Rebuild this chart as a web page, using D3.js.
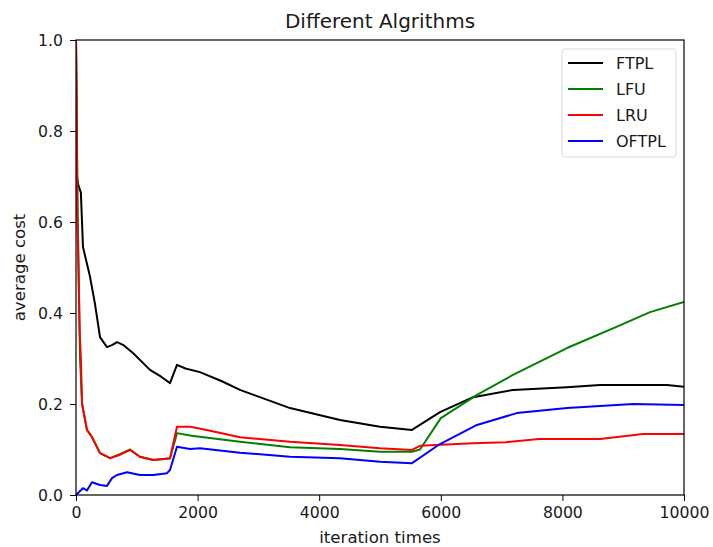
<!DOCTYPE html>
<html>
<head>
<meta charset="utf-8">
<script src="https://cdn.jsdelivr.net/npm/d3@7"></script>
<style>
  body { margin: 0; background: #fff; }
  svg text { font-family: "DejaVu Sans", sans-serif; fill: #1a1a1a; }
</style>
</head>
<body>
<div id="chart"></div>
<script>
// series: [iteration, average cost]
var ftpl = [[0,1.0],[15,0.70],[40,0.68],[80,0.665],[115,0.545],[230,0.48],[312,0.42],[395,0.347],[510,0.325],
  [600,0.33],[674,0.336],[773,0.33],[937,0.312],[1217,0.275],[1400,0.26],[1546,0.246],[1661,0.286],[1800,0.278],
  [2039,0.27],[2400,0.25],[2697,0.231],[3520,0.191],[4342,0.165],[5000,0.15],[5526,0.143],[5987,0.182],
  [6530,0.215],[7187,0.231],[8076,0.237],[8618,0.242],[9720,0.242],[10000,0.238]];

var lfu = [[0,1.0],[30,0.6],[66,0.3],[100,0.2],[180,0.143],[260,0.128],[395,0.092],[560,0.081],[720,0.09],
  [890,0.1],[1050,0.084],[1270,0.077],[1546,0.08],[1661,0.136],[1900,0.13],[2697,0.117],[3520,0.105],
  [4342,0.101],[5000,0.095],[5526,0.095],[5658,0.1],[6000,0.169],[6595,0.22],[7187,0.264],[8076,0.323],
  [8898,0.37],[9441,0.402],[10000,0.424]];

var lru = [[0,1.0],[20,0.62],[40,0.5],[60,0.36],[80,0.3],[100,0.2],[180,0.143],[260,0.128],[395,0.092],
  [560,0.081],[720,0.088],[890,0.099],[1050,0.084],[1270,0.077],[1546,0.081],[1661,0.15],[1880,0.15],
  [2150,0.143],[2697,0.127],[3520,0.117],[4342,0.11],[5000,0.103],[5526,0.099],[5658,0.108],[6530,0.114],
  [7070,0.116],[7615,0.123],[8618,0.123],[9325,0.134],[10000,0.134]];

var oftpl = [[0,0],[115,0.015],[180,0.01],[263,0.028],[395,0.022],[510,0.02],[592,0.037],[674,0.044],
  [839,0.05],[1053,0.044],[1270,0.044],[1497,0.048],[1546,0.055],[1661,0.106],[1875,0.101],[2039,0.103],
  [2697,0.093],[3520,0.084],[4342,0.081],[5000,0.073],[5526,0.07],[5987,0.112],[6595,0.154],[7250,0.18],
  [8076,0.191],[9164,0.2],[10000,0.198]];

var seriesNames = ['FTPL', 'LFU', 'LRU', 'OFTPL'];
var seriesColors = ['#000000', '#008000', '#ff0000', '#0000ff'];
var xTicks = [0, 2000, 4000, 6000, 8000, 10000];
var yTicks = [0.0, 0.2, 0.4, 0.6, 0.8, 1.0];

var W = 713, H = 547;
var margin = { top: 40, right: 29, bottom: 52, left: 76 };
var width = W - margin.left - margin.right,
    height = H - margin.top - margin.bottom;

var svg = d3.select('#chart').append('svg')
    .attr('width', W)
    .attr('height', H);

var x = d3.scaleLinear().domain([0, 10000]).range([0, width]);
var y = d3.scaleLinear().domain([0, 1]).range([height, 0]);

var main = svg.append('g')
    .attr('transform', 'translate(' + margin.left + ',' + margin.top + ')');

main.append('defs').append('clipPath').attr('id', 'clip')
  .append('rect').attr('width', width).attr('height', height);

var line = d3.line()
    .x(function (d) { return x(d[0]); })
    .y(function (d) { return y(d[1]); });

var allSeries = [ftpl, lfu, lru, oftpl];
main.append('g').attr('clip-path', 'url(#clip)')
  .selectAll('path')
  .data(allSeries)
  .enter().append('path')
    .attr('d', line)
    .attr('fill', 'none')
    .attr('stroke', function (d, i) { return seriesColors[i]; })
    .attr('stroke-width', 2)
    .attr('stroke-linejoin', 'round');

// axes
var xAxis = d3.axisBottom(x).tickValues(xTicks).tickFormat(d3.format('d')).tickSize(6).tickPadding(6);
var yAxis = d3.axisLeft(y).tickValues(yTicks).tickFormat(d3.format('.1f')).tickSize(6).tickPadding(7);

var gx = main.append('g').attr('transform', 'translate(0,' + height + ')').call(xAxis);
var gy = main.append('g').call(yAxis);
[gx, gy].forEach(function (g) {
  g.select('.domain').remove();
  g.selectAll('.tick line').attr('stroke', '#000').attr('stroke-width', 1);
  g.selectAll('.tick text').style('font-size', '15.7px').attr('fill', '#1a1a1a');
});

// frame
main.append('rect')
    .attr('width', width).attr('height', height)
    .attr('fill', 'none').attr('stroke', '#000').attr('stroke-width', 1.2);

// title and labels
svg.append('text')
    .attr('x', margin.left + width / 2).attr('y', 28)
    .attr('text-anchor', 'middle')
    .style('font-size', '20px')
    .text('Different Algrithms');

svg.append('text')
    .attr('x', margin.left + width / 2).attr('y', 543)
    .attr('text-anchor', 'middle')
    .style('font-size', '16.6px')
    .text('iteration times');

svg.append('text')
    .attr('transform', 'translate(25,' + (margin.top + height / 2) + ') rotate(-90)')
    .attr('text-anchor', 'middle')
    .style('font-size', '16.6px')
    .text('average cost');

// legend
var legend = svg.append('g').attr('transform', 'translate(562,49)');
legend.append('rect')
    .attr('width', 114).attr('height', 108).attr('rx', 3)
    .attr('fill', '#fff').attr('fill-opacity', 0.8)
    .attr('stroke', '#d9d9d9');

var items = legend.selectAll('g.item')
    .data(seriesNames)
  .enter().append('g')
    .attr('transform', function (d, i) { return 'translate(0,' + (14 + i * 26) + ')'; });
items.append('line')
    .attr('x1', 6).attr('x2', 41)
    .attr('stroke', function (d, i) { return seriesColors[i]; })
    .attr('stroke-width', 2);
items.append('text')
    .attr('x', 54).attr('y', 6)
    .style('font-size', '16px')
    .text(function (d) { return d; });
</script>
</body>
</html>
